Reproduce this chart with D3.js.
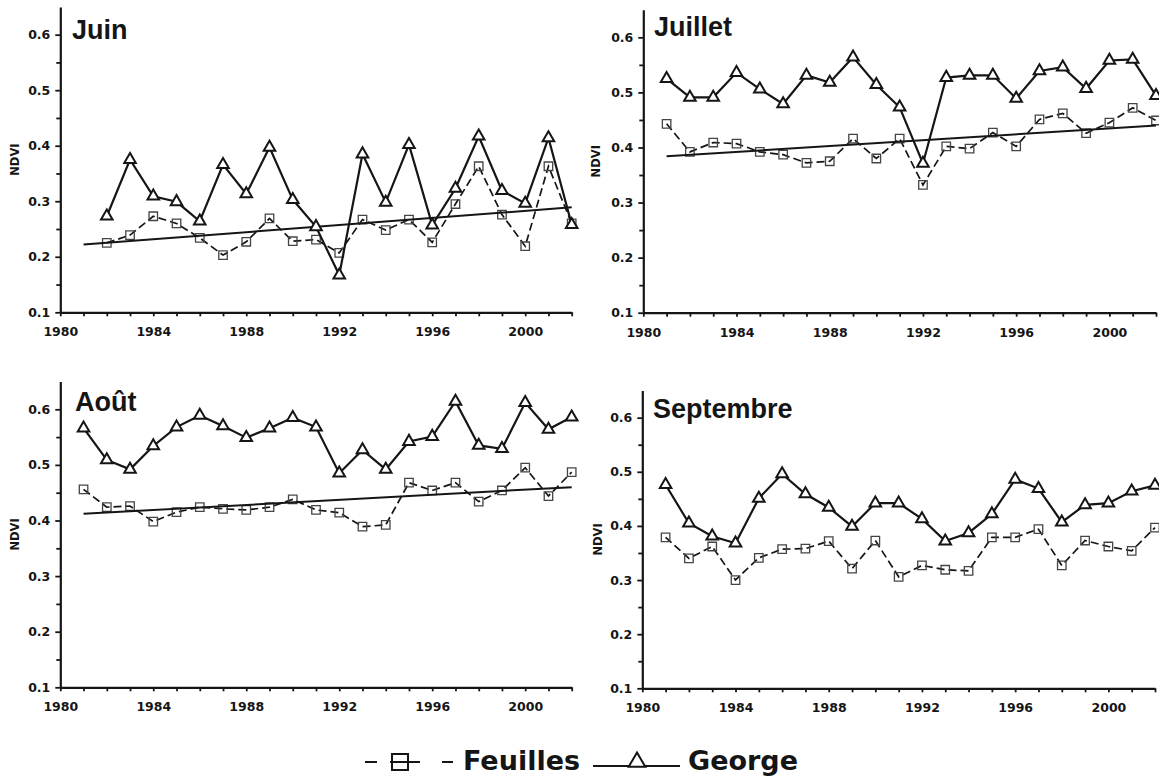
<!DOCTYPE html>
<html><head><meta charset="utf-8">
<script src="https://cdn.jsdelivr.net/npm/d3@7"></script>
<style>body{margin:0;background:#fff}</style>
</head><body>
<svg id="c" width="1159" height="784"></svg>
<script>
// ---- data ----
const years = [1981,1982,1983,1984,1985,1986,1987,1988,1989,1990,1991,1992,1993,1994,1995,1996,1997,1998,1999,2000,2001,2002];
const xTickLabels = [1980,1984,1988,1992,1996,2000];
const yTickLabels = [0.1,0.2,0.3,0.4,0.5,0.6];
const months = ["Juin","Juillet","Août","Septembre"];
const seriesNames = ["Feuilles","George"];

const juinGeorge    = [null,0.273,0.375,0.309,0.299,0.264,0.366,0.313,0.397,0.303,0.254,0.167,0.385,0.298,0.402,0.257,0.323,0.417,0.319,0.296,0.414,0.258];
const juinFeuilles  = [null,0.225,0.239,0.273,0.260,0.234,0.203,0.227,0.269,0.228,0.231,0.207,0.267,0.248,0.267,0.226,0.295,0.363,0.276,0.219,0.363,0.260];
const juilletGeorge   = [0.525,0.491,0.491,0.536,0.506,0.479,0.531,0.518,0.564,0.514,0.473,0.371,0.527,0.531,0.531,0.489,0.539,0.546,0.507,0.558,0.560,0.494];
const juilletFeuilles = [0.443,0.392,0.409,0.407,0.392,0.387,0.372,0.375,0.416,0.380,0.416,0.332,0.402,0.398,0.427,0.402,0.451,0.462,0.426,0.445,0.472,0.449];
const aoutGeorge   = [0.566,0.509,0.492,0.534,0.568,0.589,0.570,0.549,0.566,0.585,0.568,0.485,0.527,0.492,0.542,0.551,0.614,0.535,0.529,0.612,0.564,0.586];
const aoutFeuilles = [0.456,0.424,0.426,0.398,0.415,0.424,0.421,0.419,0.424,0.438,0.419,0.414,0.389,0.392,0.468,0.454,0.468,0.434,0.454,0.495,0.444,0.487];
const septGeorge   = [0.476,0.405,0.381,0.368,0.451,0.496,0.459,0.434,0.399,0.442,0.442,0.413,0.372,0.387,0.422,0.486,0.469,0.407,0.439,0.442,0.464,0.475];
const septFeuilles = [0.379,0.340,0.362,0.300,0.341,0.357,0.358,0.372,0.321,0.373,0.306,0.327,0.319,0.317,0.379,0.379,0.394,0.327,0.373,0.362,0.354,0.397];

const trendYears = [1981, 2002];
const juinTrend    = [0.222, 0.289];
const juilletTrend = [0.384, 0.440];
const aoutTrend    = [0.412, 0.460];

// ---- layout ----
const panels = [
  {name: months[0], g: juinGeorge,    f: juinFeuilles,    t: juinTrend,    x0: 60.3,  x1: 571.7, yb: 312.3, yt: 6.9,   tx: 72,  ty: 39,  nx: 15},
  {name: months[1], g: juilletGeorge, f: juilletFeuilles, t: juilletTrend, x0: 643.3, x1: 1156,  yb: 312.7, yt: 9.8,   tx: 654, ty: 36,  nx: 596},
  {name: months[2], g: aoutGeorge,    f: aoutFeuilles,    t: aoutTrend,    x0: 60.3,  x1: 571.7, yb: 687.3, yt: 381.5, tx: 75,  ty: 411, nx: 15},
  {name: months[3], g: septGeorge,    f: septFeuilles,    t: null,         x0: 642.3, x1: 1155,  yb: 688.3, yt: 390.6, tx: 653, ty: 418, nx: 598}
];

const svg = d3.select("#c");
const tickFont = "'DejaVu Sans', Verdana, sans-serif";
const ink = "#151515";
const sq = d3.symbol(d3.symbolSquare, 72);
const tri = d3.symbol(d3.symbolTriangle, 58);

panels.forEach(p => {
  const x = d3.scaleLinear().domain([1980, 2002]).range([p.x0, p.x1]);
  const y = d3.scaleLinear().domain([0.1, 0.65]).range([p.yb, p.yt]);
  const g = svg.append("g");

  // x axis
  g.append("g").attr("transform", `translate(0,${p.yb})`)
    .call(d3.axisBottom(x).tickValues([1980].concat(years))
      .tickSizeInner(4).tickSizeOuter(0).tickPadding(11)
      .tickFormat(d => xTickLabels.includes(d) ? d : ""));
  // y axis major
  g.append("g").attr("transform", `translate(${p.x0},0)`)
    .call(d3.axisLeft(y).tickValues(yTickLabels)
      .tickSizeInner(5).tickSizeOuter(0).tickPadding(5)
      .tickFormat(d3.format(".1f")));
  // y axis minor
  g.append("g").attr("transform", `translate(${p.x0},0)`)
    .call(d3.axisLeft(y).tickValues([0.15,0.25,0.35,0.45,0.55])
      .tickSizeInner(4).tickSizeOuter(0).tickFormat(""))
    .select(".domain").remove();
  g.selectAll(".domain").attr("stroke", ink).attr("stroke-width", 2.2);
  g.selectAll(".tick line").attr("stroke", ink).attr("stroke-width", 1.8);
  g.selectAll(".tick text").attr("fill", ink).attr("font-family", tickFont)
    .attr("font-weight", "bold").attr("font-size", 12.5);

  // y title
  g.append("text")
    .attr("transform", `translate(${p.nx},${(y(0.1)+y(0.65))/2}) rotate(-90)`)
    .attr("text-anchor", "middle").attr("dominant-baseline", "middle")
    .attr("font-family", tickFont).attr("font-weight", "bold").attr("font-size", 11.5)
    .attr("fill", ink).text("NDVI");

  // panel title
  g.append("text").attr("x", p.tx).attr("y", p.ty)
    .attr("font-family", "'Liberation Sans', Arial, sans-serif").attr("font-weight", "bold")
    .attr("font-size", 27).attr("fill", ink).text(p.name);

  const fData = years.map((yr, i) => ({yr, v: p.f[i]})).filter(d => d.v != null);
  const gData = years.map((yr, i) => ({yr, v: p.g[i]})).filter(d => d.v != null);
  const line = d3.line().x(d => x(d.yr)).y(d => y(d.v));

  // Feuilles dashed
  g.append("path").datum(fData).attr("d", line).attr("fill", "none")
    .attr("stroke", ink).attr("stroke-width", 1.7).attr("stroke-dasharray", "8,4");
  g.selectAll(".sq").data(fData).enter().append("path")
    .attr("transform", d => `translate(${x(d.yr)},${y(d.v)})`)
    .attr("d", sq).attr("fill", "none").attr("stroke", "#444").attr("stroke-width", 1.3);

  // trend
  if (p.t) {
    g.append("path").datum(trendYears.map((yr, i) => ({yr, v: p.t[i]})))
      .attr("d", line).attr("fill", "none").attr("stroke", ink).attr("stroke-width", 2);
  }

  // George solid
  g.append("path").datum(gData).attr("d", line).attr("fill", "none")
    .attr("stroke", ink).attr("stroke-width", 2.2);
  g.selectAll(".tri").data(gData).enter().append("path")
    .attr("transform", d => `translate(${x(d.yr)},${y(d.v)})`)
    .attr("d", tri).attr("fill", "#fff").attr("stroke", ink).attr("stroke-width", 2);
});

// ---- legend ----
const lg = svg.append("g");
const ly = 762;
lg.append("line").attr("x1", 365).attr("x2", 453).attr("y1", ly).attr("y2", ly)
  .attr("stroke", ink).attr("stroke-width", 2).attr("stroke-dasharray", "12,13,30,22,11");
lg.append("path").attr("transform", `translate(400,${ly})`).attr("d", d3.symbol(d3.symbolSquare, 256))
  .attr("fill", "none").attr("stroke", ink).attr("stroke-width", 2);
lg.append("text").attr("x", 463).attr("y", 770).attr("font-family", tickFont)
  .attr("font-weight", "bold").attr("font-size", 27).attr("fill", ink).text(seriesNames[0]);
lg.append("line").attr("x1", 593).attr("x2", 680).attr("y1", ly + 4).attr("y2", ly + 4)
  .attr("stroke", ink).attr("stroke-width", 2);
lg.append("path").attr("transform", `translate(637,${ly})`).attr("d", d3.symbol(d3.symbolTriangle, 120))
  .attr("fill", "#fff").attr("stroke", ink).attr("stroke-width", 2);
lg.append("text").attr("x", 688).attr("y", 770).attr("font-family", tickFont)
  .attr("font-weight", "bold").attr("font-size", 27).attr("fill", ink).text(seriesNames[1]);
</script>
</body></html>
